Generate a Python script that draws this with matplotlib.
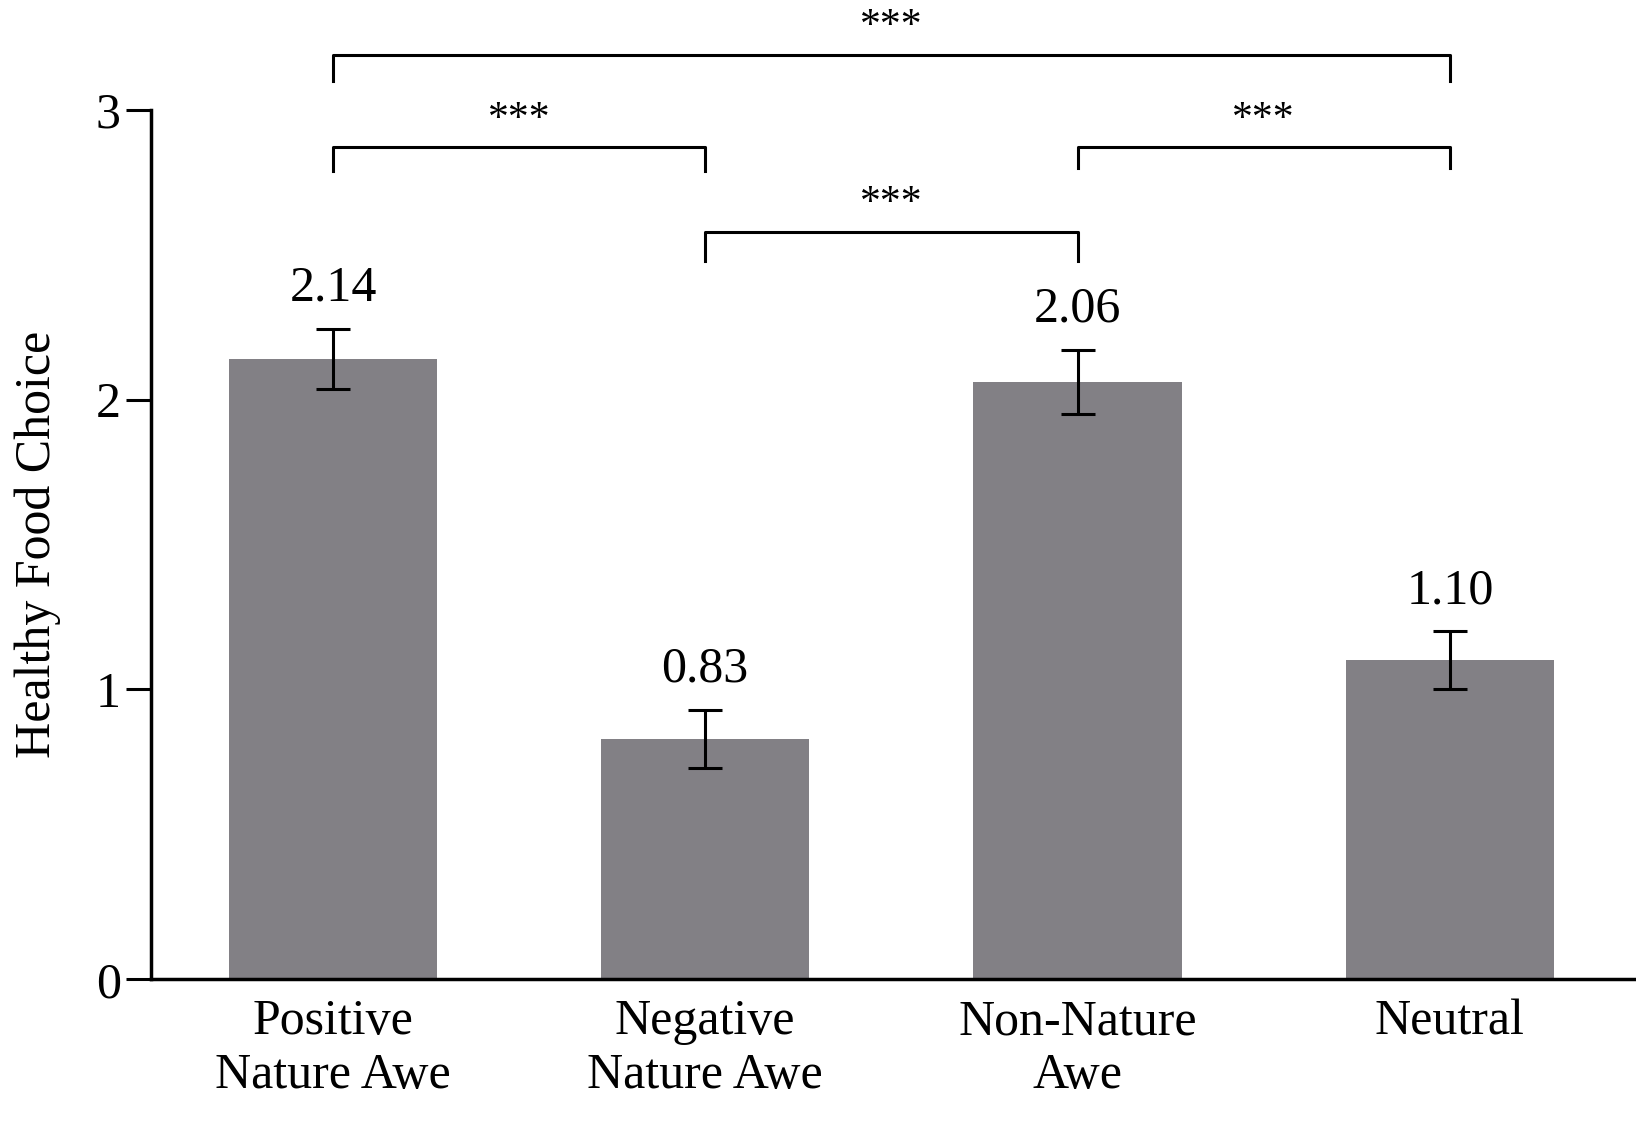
import matplotlib
matplotlib.use("Agg")
import matplotlib.pyplot as plt

categories = ["Positive\nNature Awe", "Negative\nNature Awe", "Non-Nature\nAwe", "Neutral"]
means = [2.14, 0.83, 2.06, 1.10]
errors = [0.105, 0.10, 0.11, 0.10]
labels = ["2.14", "0.83", "2.06", "1.10"]
# (left index, right index, top y, leg bottom y)
brackets = [(0, 1, 2.87, 2.79), (1, 2, 2.58, 2.48), (2, 3, 2.87, 2.80), (0, 3, 3.19, 3.10)]

plt.rcParams['font.family'] = ['Liberation Serif', 'DejaVu Serif']
fig = plt.figure(figsize=(16.36, 11.44), dpi=100)
ax = fig.add_axes([0.092, 0.144, 0.908, 0.760])
x = list(range(len(categories)))
ax.bar(x, means, width=0.56, color="#828085", zorder=2)
ax.errorbar(x, means, yerr=errors, fmt="none", ecolor="black", elinewidth=2.2, capsize=12, capthick=2.2, zorder=3)
for xi, m, e, t in zip(x, means, errors, labels):
    ax.text(xi, m + e + 0.06, t, ha="center", va="bottom", fontsize=36)
for a, b, top, bot in brackets:
    ax.plot([a, a, b, b], [bot, top, top, bot], color="black", lw=2.2, clip_on=False)
    ax.text((a + b) / 2, top + 0.03, "***", ha="center", va="bottom", fontsize=30)
ax.set_xlim(-0.49, 3.5)
ax.set_ylim(0, 3)
ax.set_yticks([0, 1, 2, 3])
ax.set_xticks(x)
ax.set_xticklabels(categories, fontsize=36)
ax.tick_params(axis='y', labelsize=36, length=18, width=2.2, direction='out')
ax.tick_params(axis='x', length=0, pad=14)
ax.set_ylabel("Healthy Food Choice", fontsize=36, labelpad=25)
for s in ["top", "right"]:
    ax.spines[s].set_visible(False)
for s in ["left", "bottom"]:
    ax.spines[s].set_linewidth(2.5)
fig.savefig("out.png", dpi=100)
